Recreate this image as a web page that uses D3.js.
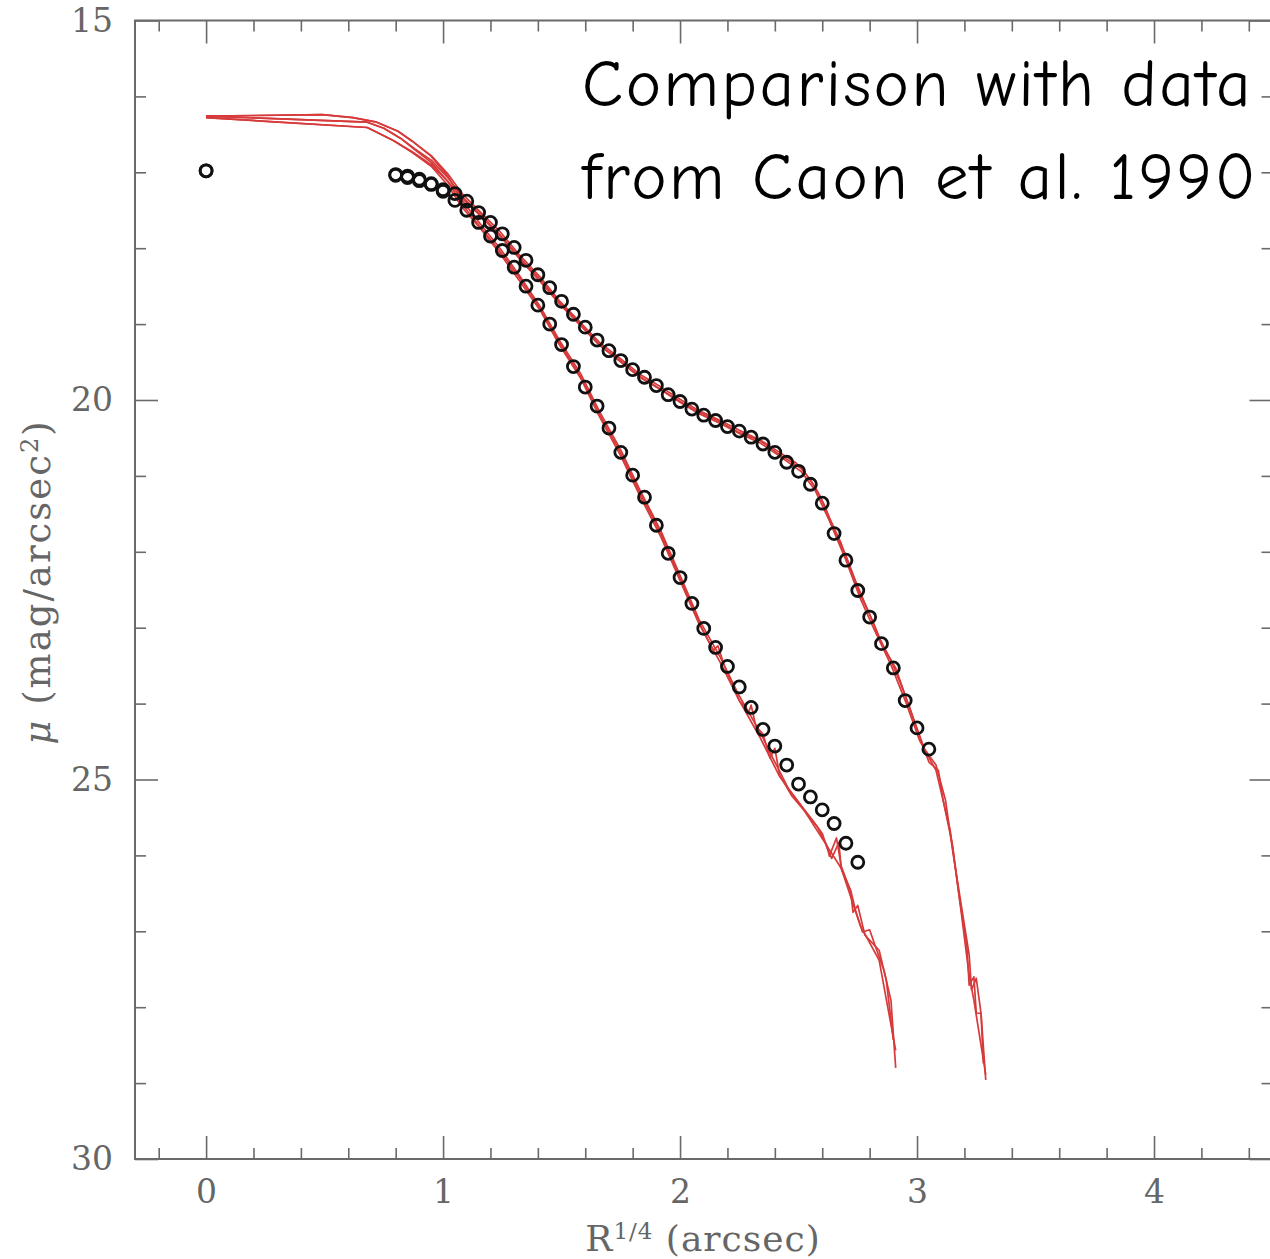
<!DOCTYPE html>
<html><head><meta charset="utf-8">
<script src="https://cdn.jsdelivr.net/npm/d3@7"></script>
<style>body{margin:0;background:#fff;overflow:hidden;} svg{display:block;}</style>
</head><body><svg id="c" width="1270" height="1259"></svg>
<script>
// ---- data ----
const xTickLabels = [0, 1, 2, 3, 4];
const yTickLabels = [15, 20, 25, 30];
const titleLines = ["Comparison with data", "from Caon et al. 1990"];

// observed profile A (steeper)
const obsA_x = [0,0.80,0.85,0.90,0.95,1.00,1.05,1.10,1.15,1.20,1.25,1.30,1.35,1.40,1.45,1.50,1.55,1.60,1.65,1.70,1.75,1.80,1.85,1.90,1.95,2.00,2.05,2.10,2.15,2.20,2.25,2.30,2.35,2.40,2.45,2.50,2.55,2.60,2.65,2.70,2.75];
const obsA_mu = [16.98,17.04,17.07,17.11,17.16,17.25,17.37,17.50,17.66,17.84,18.03,18.25,18.50,18.75,19.00,19.27,19.56,19.83,20.08,20.37,20.69,20.99,21.28,21.65,22.02,22.34,22.68,23.01,23.26,23.51,23.78,24.05,24.34,24.56,24.81,25.06,25.23,25.40,25.58,25.84,26.09];
// observed profile B (with shoulder)
const obsB_x = [0,0.80,0.85,0.90,0.95,1.00,1.05,1.10,1.15,1.20,1.25,1.30,1.35,1.40,1.45,1.50,1.55,1.60,1.65,1.70,1.75,1.80,1.85,1.90,1.95,2.00,2.05,2.10,2.15,2.20,2.25,2.30,2.35,2.40,2.45,2.50,2.55,2.60,2.65,2.70,2.75,2.80,2.85,2.90,2.95,3.00,3.05];
const obsB_mu = [16.98,17.03,17.05,17.09,17.15,17.23,17.28,17.38,17.53,17.66,17.81,17.99,18.16,18.35,18.52,18.70,18.87,19.04,19.21,19.35,19.48,19.60,19.70,19.81,19.93,20.02,20.12,20.20,20.27,20.35,20.41,20.49,20.58,20.69,20.82,20.94,21.11,21.36,21.76,22.11,22.51,22.86,23.21,23.53,23.96,24.32,24.60];

// model profiles [R^1/4, mu]
const modelA1 = [[0,16.26],[0.49,16.24],[0.62,16.28],[0.72,16.34],[0.81,16.46],[0.87,16.59],[0.95,16.79],[1.02,17.05],[1.08,17.37],[1.16,17.69],[1.24,18.00],[1.32,18.35],[1.41,18.77],[1.49,19.21],[1.58,19.65],[1.66,20.15],[1.75,20.66],[1.83,21.18],[1.92,21.73],[2.00,22.31],[2.08,22.89],[2.17,23.39],[2.25,23.90],[2.34,24.39],[2.39,24.71],[2.42,24.89],[2.46,25.14],[2.51,25.34],[2.56,25.54],[2.60,25.71],[2.62,25.90],[2.64,26.04],[2.67,25.83],[2.68,26.17],[2.72,26.46],[2.74,26.72],[2.77,27.01],[2.80,26.98],[2.83,27.25],[2.86,27.51],[2.89,27.91],[2.91,28.80]];
const modelA2 = [[0,16.26],[0.68,16.34],[0.75,16.42],[0.82,16.55],[0.88,16.70],[0.95,16.87],[1.02,17.12],[1.08,17.42],[1.16,17.73],[1.24,18.04],[1.32,18.38],[1.41,18.79],[1.49,19.24],[1.58,19.69],[1.66,20.19],[1.75,20.70],[1.83,21.22],[1.92,21.77],[2.00,22.35],[2.08,22.93],[2.14,23.30],[2.16,23.24],[2.19,23.53],[2.25,23.96],[2.29,24.11],[2.30,24.02],[2.32,24.30],[2.35,24.40],[2.38,24.72],[2.40,24.59],[2.42,24.94],[2.47,25.21],[2.53,25.43],[2.58,25.63],[2.62,25.87],[2.63,26.01],[2.66,25.77],[2.68,26.14],[2.72,26.48],[2.73,26.75],[2.75,26.66],[2.78,27.05],[2.84,27.25],[2.87,27.64],[2.90,28.43]];
const modelA3 = [[0,16.28],[0.68,16.41],[0.79,16.58],[0.87,16.74],[0.95,16.92],[1.02,17.17],[1.08,17.46],[1.16,17.75],[1.24,18.07],[1.32,18.42],[1.41,18.82],[1.49,19.27],[1.58,19.71],[1.66,20.22],[1.75,20.74],[1.83,21.26],[1.92,21.81],[2.00,22.38],[2.08,22.95],[2.17,23.46],[2.25,23.96],[2.34,24.46],[2.42,24.96],[2.51,25.34],[2.59,25.73],[2.68,26.17],[2.76,26.92],[2.84,27.38],[2.91,28.57]];
const modelB1 = [[0,16.26],[0.49,16.24],[0.62,16.28],[0.72,16.34],[0.81,16.46],[0.87,16.59],[0.95,16.78],[1.02,17.02],[1.08,17.28],[1.16,17.53],[1.24,17.78],[1.32,18.08],[1.41,18.38],[1.49,18.69],[1.58,18.98],[1.66,19.24],[1.75,19.46],[1.83,19.66],[1.92,19.83],[2.00,19.99],[2.08,20.14],[2.17,20.27],[2.25,20.40],[2.34,20.53],[2.42,20.69],[2.49,20.83],[2.53,20.97],[2.57,21.15],[2.61,21.39],[2.65,21.72],[2.70,22.05],[2.74,22.38],[2.78,22.68],[2.82,22.97],[2.86,23.27],[2.91,23.53],[2.95,23.89],[2.99,24.25],[3.03,24.59],[3.08,24.81],[3.12,25.27],[3.15,25.93],[3.19,26.72],[3.22,27.31],[3.23,27.77],[3.25,27.62],[3.27,28.08],[3.28,28.74]];
const modelB2 = [[0,16.26],[0.68,16.34],[0.75,16.42],[0.82,16.55],[0.88,16.69],[0.95,16.84],[1.02,17.07],[1.08,17.32],[1.16,17.56],[1.24,17.82],[1.32,18.11],[1.41,18.41],[1.49,18.71],[1.58,19.00],[1.66,19.27],[1.75,19.49],[1.83,19.69],[1.92,19.86],[2.00,20.02],[2.08,20.16],[2.17,20.29],[2.25,20.43],[2.34,20.54],[2.42,20.72],[2.51,20.90],[2.55,21.05],[2.59,21.26],[2.63,21.55],[2.68,21.89],[2.72,22.24],[2.76,22.56],[2.80,22.82],[2.84,23.13],[2.89,23.43],[2.93,23.73],[2.97,24.06],[3.01,24.42],[3.05,24.77],[3.09,24.88],[3.11,25.27],[3.15,25.87],[3.18,26.59],[3.21,27.18],[3.22,27.71],[3.24,27.60],[3.25,28.08],[3.27,28.08],[3.29,28.96]];
const modelB3 = [[0,16.28],[0.68,16.41],[0.79,16.58],[0.87,16.73],[0.95,16.90],[1.02,17.12],[1.08,17.34],[1.16,17.58],[1.24,17.84],[1.32,18.13],[1.41,18.44],[1.49,18.73],[1.58,19.02],[1.66,19.28],[1.75,19.50],[1.83,19.70],[1.92,19.87],[2.00,20.03],[2.08,20.18],[2.17,20.31],[2.25,20.44],[2.34,20.57],[2.42,20.74],[2.51,20.94],[2.57,21.19],[2.63,21.59],[2.70,22.11],[2.76,22.61],[2.82,23.03],[2.89,23.49],[2.95,23.96],[3.01,24.48],[3.08,24.88],[3.14,25.67],[3.18,26.59],[3.22,27.58],[3.24,27.91],[3.29,28.89]];

// ---- chart ----
const L = 135, R = 1272.5, T = 20.5, B = 1159;
const x = d3.scaleLinear().domain([-0.3, 4.5]).range([L, R]);
const y = d3.scaleLinear().domain([15, 30]).range([T, B]);
const svg = d3.select('#c');
const axisColor = '#6a6a6a';
const labelFont = '"DejaVu Serif", "Liberation Serif", serif';

const xMinor = d3.range(-0.2, 4.45, 0.2).filter(v => Math.abs(v - Math.round(v)) > 1e-6);
const yMinor = d3.range(16, 30, 1).filter(v => v % 5 !== 0);

function styleAxis(g) {
  g.select('.domain').remove();
  g.selectAll('.tick line').attr('stroke', axisColor).attr('stroke-width', 1.6);
  g.selectAll('.tick text').attr('fill', '#666').attr('font-family', labelFont).attr('font-size', 33);
}
// bottom
svg.append('g').attr('transform', `translate(0,${B})`)
  .call(d3.axisBottom(x).tickValues(xTickLabels).tickSize(-23).tickPadding(21).tickFormat(d3.format('d'))).call(styleAxis);
svg.append('g').attr('transform', `translate(0,${B})`)
  .call(d3.axisBottom(x).tickValues(xMinor).tickSize(-11).tickFormat('')).call(styleAxis);
// top
svg.append('g').attr('transform', `translate(0,${T})`)
  .call(d3.axisTop(x).tickValues(xTickLabels).tickSize(-23).tickFormat('')).call(styleAxis);
svg.append('g').attr('transform', `translate(0,${T})`)
  .call(d3.axisTop(x).tickValues(xMinor).tickSize(-11).tickFormat('')).call(styleAxis);
// left
svg.append('g').attr('transform', `translate(${L},0)`)
  .call(d3.axisLeft(y).tickValues(yTickLabels).tickSize(-23).tickPadding(22).tickFormat(d3.format('d'))).call(styleAxis);
svg.append('g').attr('transform', `translate(${L},0)`)
  .call(d3.axisLeft(y).tickValues(yMinor).tickSize(-11).tickFormat('')).call(styleAxis);
// right
svg.append('g').attr('transform', `translate(${R},0)`)
  .call(d3.axisRight(y).tickValues(yTickLabels).tickSize(-23).tickFormat('')).call(styleAxis);
svg.append('g').attr('transform', `translate(${R},0)`)
  .call(d3.axisRight(y).tickValues(yMinor).tickSize(-11).tickFormat('')).call(styleAxis);

// frame
svg.append('rect').attr('x', L).attr('y', T).attr('width', R - L).attr('height', B - T)
  .attr('fill', 'none').attr('stroke', axisColor).attr('stroke-width', 2);

// model lines
const line = d3.line().x(d => x(d[0])).y(d => y(d[1]));
[modelA1, modelA2, modelA3, modelB1, modelB2, modelB3].forEach(m => {
  svg.append('path').datum(m).attr('d', line)
    .attr('fill', 'none').attr('stroke', '#d63a3a').attr('stroke-width', 1.7)
    .attr('stroke-linejoin', 'round');
});

// observed points
function drawObs(xs, ms) {
  svg.append('g').selectAll('circle').data(xs.map((v, i) => [v, ms[i]])).join('circle')
    .attr('cx', d => x(d[0])).attr('cy', d => y(d[1])).attr('r', 6)
    .attr('fill', 'none').attr('stroke', '#111').attr('stroke-width', 2.8);
}
drawObs(obsA_x, obsA_mu);
drawObs(obsB_x, obsB_mu);

// axis titles
svg.append('text').attr('x', 703).attr('y', 1251).attr('text-anchor', 'middle')
  .attr('font-family', labelFont).attr('font-size', 36).attr('letter-spacing', 1).attr('fill', '#666')
  .call(t => {
    t.append('tspan').text('R');
    t.append('tspan').attr('dy', -12).attr('font-size', 23).text('1/4');
    t.append('tspan').attr('dy', 12).text(' (arcsec)');
  });
svg.append('text').attr('transform', 'translate(50,582) rotate(-90)').attr('text-anchor', 'middle')
  .attr('font-family', labelFont).attr('font-size', 37).attr('letter-spacing', 2).attr('fill', '#666')
  .call(t => {
    t.append('tspan').attr('font-style', 'italic').text('μ');
    t.append('tspan').text(' (mag/arcsec');
    t.append('tspan').attr('dy', -12).attr('font-size', 24).text('2');
    t.append('tspan').attr('dy', 12).text(')');
  });

// title (kept fully inside the picture)
const titleFont = '"Comic Sans MS", "Comic Neue", "Noto Sans", sans-serif';
svg.append('g').selectAll('text').data(titleLines).join('text')
  .attr('x', 582).attr('y', (d, i) => 106 + i * 93)
  .attr('font-family', titleFont).attr('font-size', 67).attr('letter-spacing', 2.5)
  .attr('fill', '#000').text(d => d);
</script>
</body></html>
